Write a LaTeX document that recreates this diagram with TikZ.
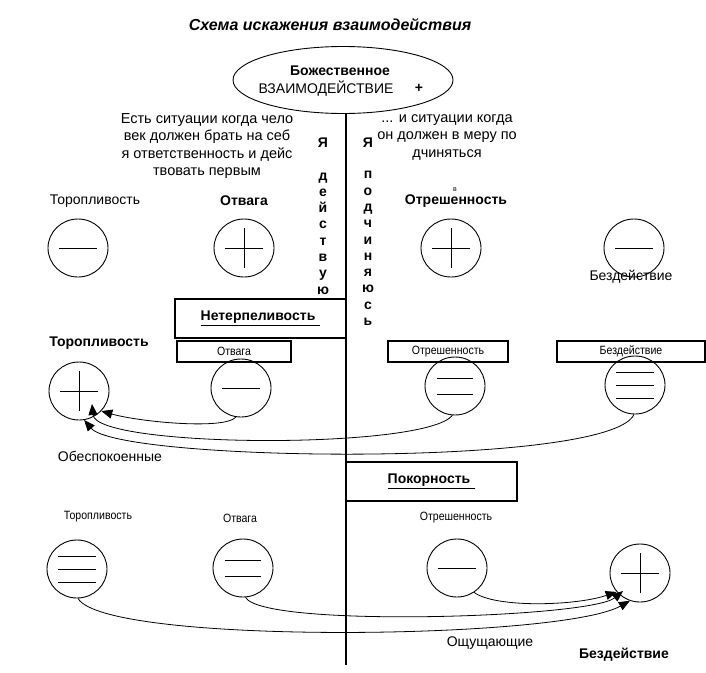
\documentclass[tikz,border=0pt]{standalone}
\usepackage{fontspec}
\setmainfont{Liberation Sans}
\newfontfamily\narrowf[FakeStretch=0.88]{Liberation Sans}
\usetikzlibrary{shapes.geometric,arrows.meta,calc}
\newcommand\symMinus[1]{\draw[sym] ($(#1)+(-19,0)$) -- ($(#1)+(19,0)$);}
\newcommand\symPlus[1]{\draw[sym] ($(#1)+(-19,0)$) -- ($(#1)+(19,0)$);\draw[sym] ($(#1)+(0,-20)$) -- ($(#1)+(0,20)$);}
\newcommand\symEq[1]{\draw[sym] ($(#1)+(-18,-8)$) -- ($(#1)+(18,-8)$);\draw[sym] ($(#1)+(-18,8)$) -- ($(#1)+(18,8)$);}
\newcommand\symTri[1]{\draw[sym] ($(#1)+(-19,-13)$) -- ($(#1)+(19,-13)$);\draw[sym] ($(#1)+(-19,0)$) -- ($(#1)+(19,0)$);\draw[sym] ($(#1)+(-19,13)$) -- ($(#1)+(19,13)$);}
\begin{document}
\begin{tikzpicture}[x=1pt,y=-1pt,
  reg/.style={font=\fontsize{14}{16}\selectfont, inner sep=0pt},
  bld/.style={font=\bfseries\fontsize{14}{16}\selectfont, inner sep=0pt},
  sml/.style={font=\narrowf\fontsize{12}{14}\selectfont, inner sep=0pt},
  vert/.style={font=\bfseries\fontsize{14}{16.3}\selectfont, inner sep=0pt, align=center},
  oval/.style={draw, ellipse, minimum width=60pt, minimum height=58pt, inner sep=0pt, line width=0.9pt},
  lbox/.style={draw, line width=1.4pt, inner sep=0pt},
  sbox/.style={draw, line width=1.2pt, inner sep=0pt, minimum height=21pt, font=\narrowf\fontsize{12}{14}\selectfont},
  sym/.style={line width=1pt},
  arr/.style={line width=0.8pt, -{Triangle[length=11pt,width=9pt]}}]
\useasboundingbox (0,0) rectangle (706,672);

% title
\node[font=\bfseries\itshape\fontsize{16}{18}\selectfont, inner sep=0pt] (title) at (330,25) {Схема искажения взаимодействия};

% top ellipse
\node[draw, ellipse, minimum width=220pt, minimum height=67pt, line width=0.9pt] (god) at (343,80) {};
\node[bld] (godA) at (340,71) {Божественное};
\node[reg] (godB) at (326,89) {ВЗАИМОДЕЙСТВИЕ};
\node[bld] (godC) at (419,88) {+};

% axis
\coordinate (axisEnd) at (346,665);
\draw[line width=2pt] (346,113.5) -- (axisEnd);

% paragraphs
\node[reg, align=center, font=\fontsize{14.5}{17.4}\selectfont] (leftTxt) at (207,146)
  {Есть ситуации когда чело\\век должен брать на себ\\я ответственность и дейс\\твовать первым};
\node[reg, align=center, font=\fontsize{14.5}{17.4}\selectfont] (rightTxt) at (447,137.5)
  {... и ситуации когда\\он должен в меру по\\дчиняться};

% vertical words
\node[vert] (ya1) at (323,143) {Я};
\node[vert] (word1) at (323,233.5) {д\\е\\й\\с\\т\\в\\у\\ю};
\node[vert] (ya2) at (368,143) {Я};
\node[vert] (word2) at (368,248.5) {п\\о\\д\\ч\\и\\н\\я\\ю\\с\\ь};

% row 1
\node[reg] (l1a) at (95,201) {Торопливость};
\node[bld] (l1b) at (244,201) {Отвага};
\node[bld] (l1c) at (456,201) {Отрешенность};
\node[font=\fontsize{7}{8}\selectfont, inner sep=0pt] (l1cv) at (455,190) {в};
\node[reg] (l1d) at (631,277) {Бездействие};

\node[oval] (r1a) at (78,248) {};
\node[oval] (r1b) at (244,248) {};
\node[oval] (r1c) at (451,248) {};
\node[oval] (r1d) at (634,248) {};
\symMinus{r1a}
\symPlus{r1b}
\symPlus{r1c}
\symMinus{r1d}

% row 2
\node[lbox, minimum width=171pt, minimum height=39pt, bld] (neterp) at (260.5,318.5) {\underline{Нетерпеливость\hspace{5pt}}};
\node[bld] (l2a) at (99,343) {Торопливость};
\node[sbox, minimum width=114pt] (b2b) at (234,351.5) {Отвага};
\node[sbox, minimum width=120pt] (b2c) at (448,351.5) {Отрешенность};
\node[sbox, minimum width=148pt] (b2d) at (631,351.5) {Бездействие};

\node[oval] (r2a) at (79,391) {};
\node[oval] (r2b) at (241,388) {};
\node[oval] (r2c) at (455,386) {};
\node[oval] (r2d) at (635,385) {};
\symPlus{r2a}
\symMinus{r2b}
\symEq{r2c}
\symTri{r2d}

\coordinate (t2) at ($(r2a)+(13,13)$);
\draw[arr] (r2b.-100) .. controls (225,430) and (140,422) .. (r2a.-42);
\draw[arr] (r2c.-95) .. controls (425,450) and (96,448) .. (t2);
\draw[arr] (r2d.-92) .. controls (610,468) and (120,462) .. (r2a.-80);

\node[reg] (obesp) at (110,456) {Обеспокоенные};

% row 3
\node[lbox, minimum width=171pt, minimum height=39pt, bld] (pokor) at (431.5,481.5) {\underline{Покорность\hspace{5pt}}};
\node[sml] (l3a) at (98,517) {Торопливость};
\node[sml] (l3b) at (240,518) {Отвага};
\node[sml] (l3c) at (456,518) {Отрешенность};

\node[oval] (r3a) at (77,569) {};
\node[oval] (r3b) at (243,568) {};
\node[oval] (r3c) at (457,568) {};
\node[oval] (r3d) at (640,573) {};
\symTri{r3a}
\symEq{r3b}
\symMinus{r3c}
\symPlus{r3d}

\coordinate (t5) at ($(r3d)+(-17,18)$);
\draw[arr] (r3c.-55) .. controls (495,608) and (575,606) .. (r3d.-141);
\draw[arr] (r3b.-85) .. controls (262,628) and (590,618) .. (t5);
\draw[arr] (r3a.-88) .. controls (105,645) and (560,640) .. (r3d.-110);

\node[reg] (oshch) at (490,643) {Ощущающие};
\node[bld] (bezd) at (624,655) {Бездействие};
\end{tikzpicture}
\end{document}
